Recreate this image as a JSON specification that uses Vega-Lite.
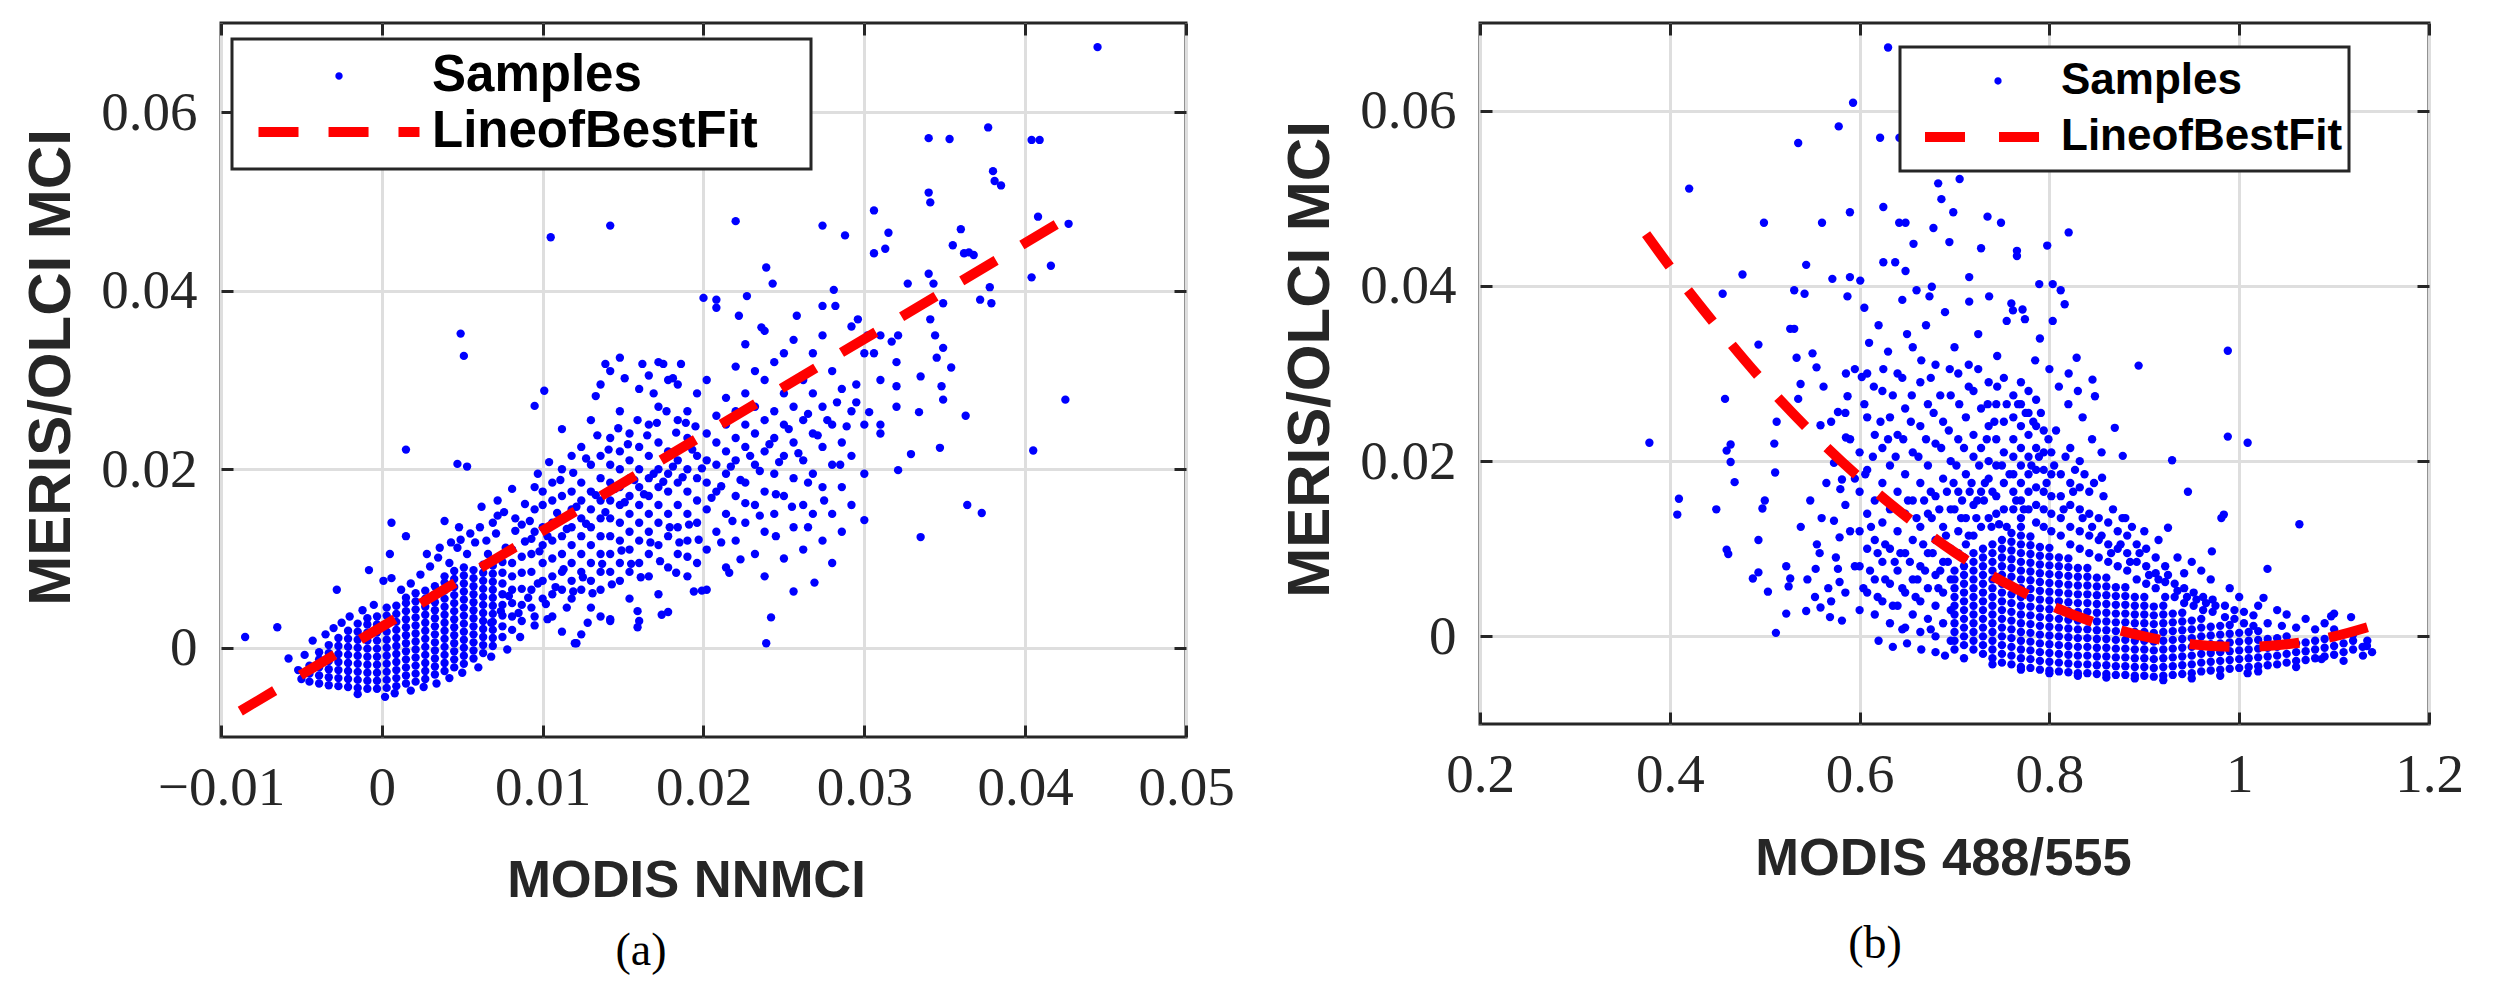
{
"$schema":"https://vega.github.io/schema/vega-lite/v6.json",
"background":"white",
"padding":{"left":20,"top":20,"right":10,"bottom":10},
"spacing":43,
"datasets":{
"a":[
{"x":0.0445,"y":0.0673},{"x":0.0377,"y":0.0583},{"x":0.034,"y":0.0571},{"x":0.0353,"y":0.057},{"x":0.0404,"y":0.0569},{"x":0.0409,"y":0.0569},{"x":0.034,"y":0.051},{"x":0.0341,"y":0.0499},{"x":0.038,"y":0.0534},{"x":0.0381,"y":0.0523},{"x":0.0385,"y":0.0518},{"x":0.0306,"y":0.049},{"x":0.0427,"y":0.0475},{"x":0.0408,"y":0.0483},{"x":0.0274,"y":0.0473},{"x":0.0288,"y":0.0462},{"x":0.022,"y":0.0478},{"x":0.0142,"y":0.0473},{"x":0.0105,"y":0.046},{"x":0.0315,"y":0.0465},{"x":0.0355,"y":0.0451},{"x":0.036,"y":0.0469},{"x":0.0362,"y":0.0442},{"x":0.0365,"y":0.0443},{"x":0.0368,"y":0.044},{"x":0.0416,"y":0.0428},{"x":0.0404,"y":0.0415},{"x":0.0343,"y":0.0408},{"x":0.034,"y":0.0419},{"x":0.0327,"y":0.0408},{"x":0.0239,"y":0.0426},{"x":0.0243,"y":0.0408},{"x":0.0378,"y":0.0404},{"x":0.0372,"y":0.039},{"x":0.0379,"y":0.0386},{"x":0.0313,"y":0.0447},{"x":0.0306,"y":0.0442},{"x":0.0227,"y":0.0394},{"x":0.02,"y":0.0392},{"x":0.0208,"y":0.0381},{"x":0.0222,"y":0.0372},{"x":0.0236,"y":0.0359},{"x":0.0281,"y":0.0401},{"x":0.0274,"y":0.0383},{"x":0.0296,"y":0.0368},{"x":0.0258,"y":0.0372},{"x":0.0282,"y":0.0383},{"x":0.0349,"y":0.0386},{"x":0.0341,"y":0.0368},{"x":0.0344,"y":0.035},{"x":0.0349,"y":0.0336},{"x":0.0345,"y":0.0325},{"x":0.0354,"y":0.0314},{"x":0.0335,"y":0.0304},{"x":0.0321,"y":0.035},{"x":0.0317,"y":0.0343},{"x":0.0302,"y":0.035},{"x":0.0306,"y":0.033},{"x":0.032,"y":0.0293},{"x":0.0348,"y":0.0293},{"x":0.0349,"y":0.0278},{"x":0.0363,"y":0.026},{"x":0.0334,"y":0.0264},{"x":0.0303,"y":0.0264},{"x":0.0295,"y":0.0275},{"x":0.031,"y":0.025},{"x":0.0321,"y":0.0199},{"x":0.0329,"y":0.0217},{"x":0.0347,"y":0.0224},{"x":0.0405,"y":0.0221},{"x":0.0364,"y":0.016},{"x":0.0373,"y":0.0151},{"x":0.0335,"y":0.0124},{"x":0.03,"y":0.0143},{"x":0.0425,"y":0.0278},{"x":0.0049,"y":0.0352},{"x":0.0051,"y":0.0327},{"x":0.0015,"y":0.0222},{"x":0.0095,"y":0.0271},{"x":0.0101,"y":0.0288},{"x":0.0047,"y":0.0206},{"x":0.0053,"y":0.0203},{"x":0.0006,"y":0.014},{"x":-0.0065,"y":0.0023},{"x":-0.0085,"y":0.0012},{"x":0.0242,"y":0.0034},{"x":0.0239,"y":0.0005},{"x":0.0256,"y":0.0063},{"x":0.0269,"y":0.0073},{"x":0.0223,"y":0.0099},{"x":0.0216,"y":0.0084},{"x":0.0199,"y":0.0064},{"x":0.0159,"y":0.0023},{"x":0.0174,"y":0.0037},{"x":0.0159,"y":0.0041},{"x":0.012,"y":0.0005},{"x":0.0142,"y":0.0032},{"x":0.019,"y":0.0102},{"x":0.0183,"y":0.0084},{"x":0.0194,"y":0.0063},
{"x":-0.0045,"y":-0.0038},{"x":-0.0045,"y":-0.0029},{"x":-0.0045,"y":-0.002},
{"x":-0.0039,"y":-0.004},{"x":-0.0039,"y":-0.0031},{"x":-0.0039,"y":-0.0022},{"x":-0.0039,"y":-0.0013},{"x":-0.0039,"y":-0.0005},
{"x":-0.0033,"y":-0.0042},{"x":-0.0033,"y":-0.0033},{"x":-0.0033,"y":-0.0024},{"x":-0.0033,"y":-0.0015},{"x":-0.0033,"y":-0.0006},{"x":-0.0033,"y":0.0003},
{"x":-0.0027,"y":-0.0043},{"x":-0.0027,"y":-0.0034},{"x":-0.0027,"y":-0.0025},{"x":-0.0027,"y":-0.0016},{"x":-0.0027,"y":-0.0007},{"x":-0.0027,"y":0.0002},{"x":-0.0027,"y":0.0011},
{"x":-0.0021,"y":-0.0044},{"x":-0.0021,"y":-0.0035},{"x":-0.0021,"y":-0.0026},{"x":-0.0021,"y":-0.0017},{"x":-0.0021,"y":-0.0008},{"x":-0.0021,"y":0.0001},{"x":-0.0021,"y":0.001},{"x":-0.0021,"y":0.0019},
{"x":-0.0015,"y":-0.0045},{"x":-0.0015,"y":-0.0036},{"x":-0.0015,"y":-0.0027},{"x":-0.0015,"y":-0.0018},{"x":-0.0015,"y":-0.0009},{"x":-0.0015,"y":0},{"x":-0.0015,"y":0.0009},{"x":-0.0015,"y":0.0018},{"x":-0.0015,"y":0.0027},
{"x":-0.0009,"y":-0.0046},{"x":-0.0009,"y":-0.0037},{"x":-0.0009,"y":-0.0028},{"x":-0.0009,"y":-0.0019},{"x":-0.0009,"y":-0.001},{"x":-0.0009,"y":-0.0001},{"x":-0.0009,"y":0.0008},{"x":-0.0009,"y":0.0017},{"x":-0.0009,"y":0.0026},{"x":-0.0009,"y":0.0033},
{"x":-0.0003,"y":-0.0046},{"x":-0.0003,"y":-0.0037},{"x":-0.0003,"y":-0.0028},{"x":-0.0003,"y":-0.0019},{"x":-0.0003,"y":-0.001},{"x":-0.0003,"y":-0.0001},{"x":-0.0003,"y":0.0008},{"x":-0.0003,"y":0.0017},{"x":-0.0003,"y":0.0026},{"x":-0.0003,"y":0.0035},
{"x":0.0003,"y":-0.0045},{"x":0.0003,"y":-0.0036},{"x":0.0003,"y":-0.0027},{"x":0.0003,"y":-0.0018},{"x":0.0003,"y":-0.0009},{"x":0.0003,"y":0},{"x":0.0003,"y":0.0009},{"x":0.0003,"y":0.0018},{"x":0.0003,"y":0.0027},{"x":0.0003,"y":0.0036},{"x":0.0003,"y":0.0045},
{"x":0.0009,"y":-0.0043},{"x":0.0009,"y":-0.0034},{"x":0.0009,"y":-0.0025},{"x":0.0009,"y":-0.0016},{"x":0.0009,"y":-0.0007},{"x":0.0009,"y":0.0002},{"x":0.0009,"y":0.0011},{"x":0.0009,"y":0.002},{"x":0.0009,"y":0.0029},{"x":0.0009,"y":0.0038},{"x":0.0009,"y":0.0047},
{"x":0.0015,"y":-0.004},{"x":0.0015,"y":-0.0031},{"x":0.0015,"y":-0.0022},{"x":0.0015,"y":-0.0013},{"x":0.0015,"y":-0.0004},{"x":0.0015,"y":0.0005},{"x":0.0015,"y":0.0014},{"x":0.0015,"y":0.0023},{"x":0.0015,"y":0.0032},{"x":0.0015,"y":0.0041},{"x":0.0015,"y":0.005},{"x":0.0015,"y":0.0056},
{"x":0.0021,"y":-0.0038},{"x":0.0021,"y":-0.0029},{"x":0.0021,"y":-0.002},{"x":0.0021,"y":-0.0011},{"x":0.0021,"y":-0.0002},{"x":0.0021,"y":0.0007},{"x":0.0021,"y":0.0016},{"x":0.0021,"y":0.0025},{"x":0.0021,"y":0.0034},{"x":0.0021,"y":0.0043},{"x":0.0021,"y":0.0052},{"x":0.0021,"y":0.0061},
{"x":0.0027,"y":-0.0035},{"x":0.0027,"y":-0.0026},{"x":0.0027,"y":-0.0017},{"x":0.0027,"y":-0.0008},{"x":0.0027,"y":0.0001},{"x":0.0027,"y":0.001},{"x":0.0027,"y":0.0019},{"x":0.0027,"y":0.0028},{"x":0.0027,"y":0.0037},{"x":0.0027,"y":0.0046},{"x":0.0027,"y":0.0055},{"x":0.0027,"y":0.0064},
{"x":0.0033,"y":-0.003},{"x":0.0033,"y":-0.0021},{"x":0.0033,"y":-0.0012},{"x":0.0033,"y":-0.0003},{"x":0.0033,"y":0.0006},{"x":0.0033,"y":0.0015},{"x":0.0033,"y":0.0024},{"x":0.0033,"y":0.0033},{"x":0.0033,"y":0.0042},{"x":0.0033,"y":0.0051},{"x":0.0033,"y":0.006},{"x":0.0033,"y":0.0069},
{"x":0.0039,"y":-0.0026},{"x":0.0039,"y":-0.0017},{"x":0.0039,"y":-0.0008},{"x":0.0039,"y":0.0001},{"x":0.0039,"y":0.001},{"x":0.0039,"y":0.0019},{"x":0.0039,"y":0.0028},{"x":0.0039,"y":0.0037},{"x":0.0039,"y":0.0046},{"x":0.0039,"y":0.0055},{"x":0.0039,"y":0.0064},{"x":0.0039,"y":0.0073},{"x":0.0039,"y":0.008},
{"x":0.0045,"y":-0.0022},{"x":0.0045,"y":-0.0013},{"x":0.0045,"y":-0.0004},{"x":0.0045,"y":0.0005},{"x":0.0045,"y":0.0014},{"x":0.0045,"y":0.0023},{"x":0.0045,"y":0.0032},{"x":0.0045,"y":0.0041},{"x":0.0045,"y":0.005},{"x":0.0045,"y":0.0059},{"x":0.0045,"y":0.0068},{"x":0.0045,"y":0.0077},{"x":0.0045,"y":0.0086},
{"x":0.0051,"y":-0.0018},{"x":0.0051,"y":-0.0009},{"x":0.0051,"y":0},{"x":0.0051,"y":0.0009},{"x":0.0051,"y":0.0018},{"x":0.0051,"y":0.0027},{"x":0.0051,"y":0.0036},{"x":0.0051,"y":0.0045},{"x":0.0051,"y":0.0054},{"x":0.0051,"y":0.0063},{"x":0.0051,"y":0.0072},{"x":0.0051,"y":0.0081},{"x":0.0051,"y":0.009},
{"x":0.0057,"y":-0.0012},{"x":0.0057,"y":-0.0003},{"x":0.0057,"y":0.0006},{"x":0.0057,"y":0.0015},{"x":0.0057,"y":0.0024},{"x":0.0057,"y":0.0033},{"x":0.0057,"y":0.0042},{"x":0.0057,"y":0.0051},{"x":0.0057,"y":0.006},{"x":0.0057,"y":0.0069},{"x":0.0057,"y":0.0078},{"x":0.0057,"y":0.0087},
{"x":0.0063,"y":-0.0006},{"x":0.0063,"y":0.0003},{"x":0.0063,"y":0.0012},{"x":0.0063,"y":0.0021},{"x":0.0063,"y":0.003},{"x":0.0063,"y":0.0039},{"x":0.0063,"y":0.0048},{"x":0.0063,"y":0.0057},{"x":0.0063,"y":0.0066},{"x":0.0063,"y":0.0075},{"x":0.0063,"y":0.0084},{"x":0.0063,"y":0.0093},
{"x":0.0069,"y":0.0002},{"x":0.0069,"y":0.0011},{"x":0.0069,"y":0.002},{"x":0.0069,"y":0.0029},{"x":0.0069,"y":0.0038},{"x":0.0069,"y":0.0047},{"x":0.0069,"y":0.0056},{"x":0.0069,"y":0.0065},{"x":0.0069,"y":0.0074},{"x":0.0069,"y":0.0083},{"x":0.0069,"y":0.0092},
{"x":0.0075,"y":0.0012},{"x":0.0075,"y":0.0024},{"x":0.0075,"y":0.0036},{"x":0.0075,"y":0.0048},{"x":0.0075,"y":0.006},{"x":0.0075,"y":0.0072},{"x":0.0075,"y":0.0084},{"x":0.0075,"y":0.0096},
{"x":0.0081,"y":0.002},{"x":0.0081,"y":0.0035},{"x":0.0081,"y":0.005},{"x":0.0081,"y":0.0065},{"x":0.0081,"y":0.008},{"x":0.0081,"y":0.0095},{"x":0.0081,"y":0.011},
{"x":0.0087,"y":0.003},{"x":0.0087,"y":0.0048},{"x":0.0087,"y":0.0066},{"x":0.0087,"y":0.0084},{"x":0.0087,"y":0.0102},
{"x":0.0093,"y":0.0045},{"x":0.0093,"y":0.0065},{"x":0.0093,"y":0.0085},{"x":0.0093,"y":0.0105},{"x":0.0093,"y":0.0122},
{"x":-0.0058,"y":-0.0012},{"x":-0.0052,"y":-0.0025},{"x":-0.0048,"y":-0.0008},{"x":-0.005,"y":-0.0035},{"x":-0.0043,"y":0.0008},{"x":-0.0035,"y":0.0015},{"x":-0.003,"y":0.0022},{"x":-0.0025,"y":0.0028},{"x":-0.0028,"y":0.0065},{"x":-0.002,"y":0.0035},{"x":-0.0012,"y":0.0042},{"x":-0.0005,"y":0.0048},{"x":0.0001,"y":0.0075},{"x":0.0006,"y":0.0078},{"x":0.0012,"y":0.0065},{"x":0.0018,"y":0.0072},{"x":-0.0015,"y":-0.0052},{"x":0.0002,"y":-0.0055},{"x":0.0008,"y":-0.0051},{"x":0.0018,"y":-0.0048},{"x":0.0026,"y":-0.0044},{"x":0.0034,"y":-0.004},{"x":0.0042,"y":-0.0034},{"x":0.005,"y":-0.0028},{"x":0.006,"y":-0.0022},{"x":0.0068,"y":-0.001},{"x":0.0078,"y":-0.0002},{"x":0.0086,"y":0.0012},{"x":0.0095,"y":0.0025},{"x":0.0103,"y":0.0032},{"x":0.0112,"y":0.0018},{"x":0.0121,"y":0.0005},{"x":0.0128,"y":0.0028},{"x":0.0115,"y":0.0045},{"x":0.0024,"y":0.0082},{"x":0.003,"y":0.0091},{"x":0.0035,"y":0.0101},{"x":0.0042,"y":0.0095},{"x":0.0028,"y":0.0105},{"x":0.0047,"y":0.0112},{"x":0.0053,"y":0.0105},{"x":0.0058,"y":0.0118},{"x":0.0065,"y":0.012},{"x":0.0039,"y":0.0142},{"x":0.0048,"y":0.0135},{"x":0.0005,"y":0.0105},{"x":-0.0008,"y":0.0087},{"x":0.0015,"y":0.0125},{"x":0.0062,"y":0.0158},{"x":0.0072,"y":0.0148},
{"x":0.0095,"y":0.013},{"x":0.0095,"y":0.0155},{"x":0.0095,"y":0.0035},{"x":0.0095,"y":0.018},
{"x":0.01,"y":0.0055},{"x":0.01,"y":0.0075},{"x":0.01,"y":0.0095},{"x":0.01,"y":0.0115},{"x":0.01,"y":0.0135},{"x":0.01,"y":0.016},{"x":0.01,"y":0.0175},
{"x":0.0106,"y":0.006},{"x":0.0106,"y":0.008},{"x":0.0106,"y":0.01},{"x":0.0106,"y":0.012},{"x":0.0106,"y":0.014},{"x":0.0106,"y":0.0165},{"x":0.0106,"y":0.0185},{"x":0.0106,"y":0.0035},
{"x":0.0112,"y":0.0065},{"x":0.0112,"y":0.0085},{"x":0.0112,"y":0.0105},{"x":0.0112,"y":0.0125},{"x":0.0112,"y":0.0145},{"x":0.0112,"y":0.017},{"x":0.0112,"y":0.02},{"x":0.0112,"y":0.0245},
{"x":0.0118,"y":0.0055},{"x":0.0118,"y":0.0075},{"x":0.0118,"y":0.0095},{"x":0.0118,"y":0.0115},{"x":0.0118,"y":0.0135},{"x":0.0118,"y":0.0155},{"x":0.0118,"y":0.0175},{"x":0.0118,"y":0.0215},
{"x":0.0124,"y":0.0065},{"x":0.0124,"y":0.0085},{"x":0.0124,"y":0.0105},{"x":0.0124,"y":0.0125},{"x":0.0124,"y":0.0145},{"x":0.0124,"y":0.0165},{"x":0.0124,"y":0.0185},{"x":0.0124,"y":0.0225},{"x":0.0124,"y":0.0015},
{"x":0.013,"y":0.0045},{"x":0.013,"y":0.0075},{"x":0.013,"y":0.0095},{"x":0.013,"y":0.0115},{"x":0.013,"y":0.0135},{"x":0.013,"y":0.0155},{"x":0.013,"y":0.0175},{"x":0.013,"y":0.0205},{"x":0.013,"y":0.0255},
{"x":0.0136,"y":0.0065},{"x":0.0136,"y":0.0085},{"x":0.0136,"y":0.0105},{"x":0.0136,"y":0.0125},{"x":0.0136,"y":0.0145},{"x":0.0136,"y":0.0165},{"x":0.0136,"y":0.019},{"x":0.0136,"y":0.0215},{"x":0.0136,"y":0.0295},{"x":0.0136,"y":0.0035},
{"x":0.0142,"y":0.0085},{"x":0.0142,"y":0.0105},{"x":0.0142,"y":0.0125},{"x":0.0142,"y":0.0145},{"x":0.0142,"y":0.0165},{"x":0.0142,"y":0.0185},{"x":0.0142,"y":0.0205},{"x":0.0142,"y":0.0235},{"x":0.0142,"y":0.031},{"x":0.0142,"y":0.003},
{"x":0.0148,"y":0.0075},{"x":0.0148,"y":0.0095},{"x":0.0148,"y":0.012},{"x":0.0148,"y":0.014},{"x":0.0148,"y":0.016},{"x":0.0148,"y":0.018},{"x":0.0148,"y":0.02},{"x":0.0148,"y":0.022},{"x":0.0148,"y":0.0265},{"x":0.0148,"y":0.0325},
{"x":0.0154,"y":0.0085},{"x":0.0154,"y":0.011},{"x":0.0154,"y":0.013},{"x":0.0154,"y":0.015},{"x":0.0154,"y":0.017},{"x":0.0154,"y":0.019},{"x":0.0154,"y":0.021},{"x":0.0154,"y":0.024},{"x":0.0154,"y":0.0055},
{"x":0.016,"y":0.0095},{"x":0.016,"y":0.012},{"x":0.016,"y":0.014},{"x":0.016,"y":0.016},{"x":0.016,"y":0.018},{"x":0.016,"y":0.02},{"x":0.016,"y":0.0225},{"x":0.016,"y":0.029},{"x":0.016,"y":0.003},
{"x":0.0166,"y":0.008},{"x":0.0166,"y":0.0105},{"x":0.0166,"y":0.013},{"x":0.0166,"y":0.015},{"x":0.0166,"y":0.017},{"x":0.0166,"y":0.019},{"x":0.0166,"y":0.0215},{"x":0.0166,"y":0.025},{"x":0.0166,"y":0.0305},
{"x":0.0172,"y":0.0115},{"x":0.0172,"y":0.014},{"x":0.0172,"y":0.016},{"x":0.0172,"y":0.018},{"x":0.0172,"y":0.02},{"x":0.0172,"y":0.023},{"x":0.0172,"y":0.027},{"x":0.0172,"y":0.032},{"x":0.0172,"y":0.006},
{"x":0.0178,"y":0.009},{"x":0.0178,"y":0.0125},{"x":0.0178,"y":0.015},{"x":0.0178,"y":0.0175},{"x":0.0178,"y":0.0195},{"x":0.0178,"y":0.022},{"x":0.0178,"y":0.03},{"x":0.0178,"y":0.004},
{"x":0.0184,"y":0.0105},{"x":0.0184,"y":0.0135},{"x":0.0184,"y":0.016},{"x":0.0184,"y":0.0185},{"x":0.0184,"y":0.021},{"x":0.0184,"y":0.0255},{"x":0.0184,"y":0.0295},
{"x":0.019,"y":0.008},{"x":0.019,"y":0.012},{"x":0.019,"y":0.015},{"x":0.019,"y":0.0175},{"x":0.019,"y":0.02},{"x":0.019,"y":0.0235},{"x":0.019,"y":0.0265},
{"x":0.0196,"y":0.0095},{"x":0.0196,"y":0.014},{"x":0.0196,"y":0.0165},{"x":0.0196,"y":0.019},{"x":0.0196,"y":0.0215},{"x":0.0196,"y":0.0285},
{"x":0.0202,"y":0.011},{"x":0.0202,"y":0.0155},{"x":0.0202,"y":0.0185},{"x":0.0202,"y":0.021},{"x":0.0202,"y":0.024},{"x":0.0202,"y":0.03},{"x":0.0202,"y":0.0065},
{"x":0.0208,"y":0.013},{"x":0.0208,"y":0.0175},{"x":0.0208,"y":0.0205},{"x":0.0208,"y":0.023},{"x":0.0208,"y":0.026},{"x":0.0208,"y":0.039},
{"x":0.0214,"y":0.009},{"x":0.0214,"y":0.015},{"x":0.0214,"y":0.0195},{"x":0.0214,"y":0.022},{"x":0.0214,"y":0.025},{"x":0.0214,"y":0.028},
{"x":0.022,"y":0.012},{"x":0.022,"y":0.017},{"x":0.022,"y":0.021},{"x":0.022,"y":0.0235},{"x":0.022,"y":0.0265},{"x":0.022,"y":0.0315},
{"x":0.0226,"y":0.014},{"x":0.0226,"y":0.0185},{"x":0.0226,"y":0.0225},{"x":0.0226,"y":0.025},{"x":0.0226,"y":0.0285},{"x":0.0226,"y":0.034},
{"x":0.0232,"y":0.0105},{"x":0.0232,"y":0.016},{"x":0.0232,"y":0.0205},{"x":0.0232,"y":0.024},{"x":0.0232,"y":0.027},{"x":0.0232,"y":0.031},
{"x":0.0238,"y":0.008},{"x":0.0238,"y":0.013},{"x":0.0238,"y":0.0175},{"x":0.0238,"y":0.022},{"x":0.0238,"y":0.0255},{"x":0.0238,"y":0.03},{"x":0.0238,"y":0.0355},
{"x":0.0244,"y":0.015},{"x":0.0244,"y":0.0195},{"x":0.0244,"y":0.0235},{"x":0.0244,"y":0.0265},{"x":0.0244,"y":0.032},
{"x":0.025,"y":0.01},{"x":0.025,"y":0.017},{"x":0.025,"y":0.0215},{"x":0.025,"y":0.025},{"x":0.025,"y":0.0285},{"x":0.025,"y":0.033},
{"x":0.0256,"y":0.0135},{"x":0.0256,"y":0.019},{"x":0.0256,"y":0.023},{"x":0.0256,"y":0.027},{"x":0.0256,"y":0.0345},
{"x":0.0262,"y":0.011},{"x":0.0262,"y":0.016},{"x":0.0262,"y":0.021},{"x":0.0262,"y":0.0255},{"x":0.0262,"y":0.03},
{"x":0.0268,"y":0.015},{"x":0.0268,"y":0.0195},{"x":0.0268,"y":0.024},{"x":0.0268,"y":0.0285},{"x":0.0268,"y":0.033},
{"x":0.0274,"y":0.012},{"x":0.0274,"y":0.018},{"x":0.0274,"y":0.0225},{"x":0.0274,"y":0.027},{"x":0.0274,"y":0.035},
{"x":0.028,"y":0.0095},{"x":0.028,"y":0.015},{"x":0.028,"y":0.0205},{"x":0.028,"y":0.025},{"x":0.028,"y":0.031},
{"x":0.0286,"y":0.013},{"x":0.0286,"y":0.018},{"x":0.0286,"y":0.023},{"x":0.0286,"y":0.029},
{"x":0.0292,"y":0.016},{"x":0.0292,"y":0.0215},{"x":0.0292,"y":0.0265},{"x":0.0292,"y":0.036},
{"x":0.03,"y":0.0195},{"x":0.03,"y":0.025},{"x":0.03,"y":0.033},
{"x":0.031,"y":0.024},{"x":0.031,"y":0.03},{"x":0.031,"y":0.035},
{"x":0.032,"y":0.027},{"x":0.032,"y":0.032},
{"x":0.0066,"y":0.0105},{"x":0.0071,"y":0.0128},{"x":0.0077,"y":0.0112},{"x":0.0083,"y":0.0131},{"x":0.0089,"y":0.0119},{"x":0.0092,"y":0.0142},{"x":0.0098,"y":0.0108},{"x":0.0103,"y":0.0125},{"x":0.0109,"y":0.0151},{"x":0.0115,"y":0.0133},{"x":0.0121,"y":0.0158},{"x":0.0127,"y":0.0139},{"x":0.0133,"y":0.0171},{"x":0.0139,"y":0.0152},{"x":0.0145,"y":0.0178},{"x":0.0151,"y":0.0163},{"x":0.0157,"y":0.0188},{"x":0.0163,"y":0.0172},{"x":0.0169,"y":0.0195},{"x":0.0175,"y":0.0186},{"x":0.0181,"y":0.0203},{"x":0.0187,"y":0.0191},{"x":0.0193,"y":0.0222},{"x":0.0199,"y":0.0201},
{"x":0.0068,"y":0.0028},{"x":0.0074,"y":0.0041},{"x":0.0079,"y":0.0058},{"x":0.0085,"y":0.0039},{"x":0.0091,"y":0.0056},{"x":0.0097,"y":0.0072},{"x":0.0102,"y":0.0049},{"x":0.0108,"y":0.0068},{"x":0.0113,"y":0.0088},{"x":0.0119,"y":0.0063},{"x":0.0125,"y":0.0079},{"x":0.0131,"y":0.0061},{"x":0.0137,"y":0.0094},{"x":0.0143,"y":0.0071},{"x":0.0149,"y":0.0109},{"x":0.0155,"y":0.0094},{"x":0.0161,"y":0.0079},{"x":0.0167,"y":0.0118},{"x":0.0173,"y":0.0097},{"x":0.0179,"y":0.0135},{"x":0.0185,"y":0.0118},{"x":0.0191,"y":0.0138},{"x":0.0197,"y":0.0121},
{"x":0.0072,"y":0.0165},{"x":0.0081,"y":0.0178},{"x":0.0089,"y":0.0161},{"x":0.0097,"y":0.0195},{"x":0.0104,"y":0.0208},{"x":0.0111,"y":0.0188},{"x":0.0119,"y":0.0196},{"x":0.0127,"y":0.0212},{"x":0.0134,"y":0.0238},{"x":0.0141,"y":0.0222},{"x":0.0147,"y":0.0246},{"x":0.0153,"y":0.0228},{"x":0.0159,"y":0.0255},{"x":0.0165,"y":0.0238},{"x":0.0171,"y":0.0252},{"x":0.0177,"y":0.0265},{"x":0.0183,"y":0.0241},{"x":0.0189,"y":0.0252},{"x":0.0195,"y":0.0248},
{"x":0.0133,"y":0.0282},{"x":0.0139,"y":0.0318},{"x":0.0151,"y":0.0302},{"x":0.0162,"y":0.0318},{"x":0.0169,"y":0.0285},{"x":0.0175,"y":0.0318},{"x":0.0181,"y":0.0302},{"x":0.0186,"y":0.0318},
{"x":0.0205,"y":0.0168},{"x":0.0211,"y":0.0181},{"x":0.0217,"y":0.0203},{"x":0.0223,"y":0.0188},{"x":0.0229,"y":0.0215},{"x":0.0235,"y":0.0198},{"x":0.0241,"y":0.0228},{"x":0.0247,"y":0.0208},{"x":0.0253,"y":0.0245},{"x":0.0259,"y":0.0218},{"x":0.0265,"y":0.0262},{"x":0.0271,"y":0.0238},{"x":0.0277,"y":0.0255},{"x":0.0283,"y":0.0275},{"x":0.0289,"y":0.0248},{"x":0.0295,"y":0.0295},
{"x":0.0211,"y":0.0118},{"x":0.0218,"y":0.0142},{"x":0.0226,"y":0.0162},{"x":0.0235,"y":0.0148},{"x":0.0245,"y":0.0172},{"x":0.0255,"y":0.0158},{"x":0.0265,"y":0.0185},{"x":0.0275,"y":0.0165},{"x":0.0285,"y":0.0205},{"x":0.0265,"y":0.0135},{"x":0.0245,"y":0.0125},
{"x":0.0061,"y":0.0135},{"x":0.0055,"y":0.0128},{"x":0.0049,"y":0.0121},{"x":0.0043,"y":0.0118},{"x":0.0036,"y":0.0112},{"x":0.0069,"y":0.014},{"x":0.0076,"y":0.0152},{"x":0.0083,"y":0.0145},{"x":0.0087,"y":0.0138}
],
"fa":[{"x":-0.0088,"y":-0.0071},{"x":0.0434,"y":0.049}],
"b":[
{"x":0.63,"y":0.0672},{"x":0.5931,"y":0.0609},{"x":0.578,"y":0.0582},{"x":0.5353,"y":0.0563},{"x":0.6216,"y":0.0569},{"x":0.642,"y":0.0569},{"x":0.4204,"y":0.0511},{"x":0.6828,"y":0.0517},{"x":0.7054,"y":0.0522},{"x":0.625,"y":0.049},{"x":0.5898,"y":0.0484},{"x":0.4992,"y":0.0472},{"x":0.5604,"y":0.0472},{"x":0.6417,"y":0.0472},{"x":0.6484,"y":0.0472},{"x":0.6862,"y":0.0499},{"x":0.6987,"y":0.0484},{"x":0.6778,"y":0.0466},{"x":0.7348,"y":0.0479},{"x":0.749,"y":0.0472},{"x":0.8203,"y":0.0461},{"x":0.7977,"y":0.0446},{"x":0.7658,"y":0.044},{"x":0.7658,"y":0.0434},{"x":0.728,"y":0.0443},{"x":0.6946,"y":0.045},{"x":0.6568,"y":0.0448},{"x":0.6375,"y":0.0427},{"x":0.625,"y":0.0427},{"x":0.5898,"y":0.041},{"x":0.5872,"y":0.0388},{"x":0.5713,"y":0.0408},{"x":0.5437,"y":0.0424},{"x":0.542,"y":0.0391},{"x":0.4766,"y":0.0413},{"x":0.4557,"y":0.0391},{"x":0.5311,"y":0.0395},{"x":0.6007,"y":0.0406},{"x":0.6484,"y":0.0417},{"x":0.645,"y":0.0384},{"x":0.6761,"y":0.0399},{"x":0.6736,"y":0.0388},{"x":0.7155,"y":0.041},{"x":0.7155,"y":0.0382},{"x":0.7365,"y":0.0388},{"x":0.7599,"y":0.038},{"x":0.7616,"y":0.0372},{"x":0.7717,"y":0.0373},{"x":0.7742,"y":0.0362},{"x":0.7893,"y":0.0402},{"x":0.8035,"y":0.0402},{"x":0.8161,"y":0.0379},{"x":0.8119,"y":0.0395},{"x":0.8035,"y":0.036},{"x":0.8287,"y":0.0318},{"x":0.8203,"y":0.03},{"x":0.8454,"y":0.0293},{"x":0.848,"y":0.0274},{"x":0.894,"y":0.0309},{"x":0.8689,"y":0.0238},{"x":0.8555,"y":0.0181},{"x":0.8773,"y":0.0206},{"x":0.988,"y":0.0326},{"x":0.988,"y":0.0228},{"x":1.0089,"y":0.0221},{"x":0.9293,"y":0.0201},{"x":0.946,"y":0.0165},{"x":0.9838,"y":0.0139},{"x":0.9812,"y":0.0135},{"x":1.0634,"y":0.0128},{"x":0.925,"y":0.0124},{"x":0.9712,"y":0.0097},{"x":1.0298,"y":0.0077},{"x":1.0256,"y":0.0044},{"x":1.0969,"y":0.0023},{"x":1.1,"y":0.0026},{"x":1.1179,"y":0.0022},{"x":1.0868,"y":-0.0026},{"x":1.1304,"y":-0.0022},{"x":1.1346,"y":-0.0011},{"x":1.0089,"y":-0.0042},{"x":0.3785,"y":0.0221},{"x":0.4096,"y":0.0157},{"x":0.4079,"y":0.0139},{"x":0.449,"y":0.0145},{"x":0.4599,"y":0.0212},{"x":0.4641,"y":0.0199},{"x":0.4683,"y":0.0176},{"x":0.4582,"y":0.0271},{"x":0.4641,"y":0.0219},{"x":0.4599,"y":0.0099},{"x":0.4616,"y":0.0094},{"x":0.4875,"y":0.0066},{"x":0.4934,"y":0.0073},{"x":0.5034,"y":0.0051},{"x":0.4934,"y":0.011},{"x":0.4976,"y":0.0146},{"x":0.5001,"y":0.0155},{"x":0.511,"y":0.0187},{"x":0.5101,"y":0.022},{"x":0.5126,"y":0.0245},{"x":0.5353,"y":0.0271},{"x":0.5378,"y":0.0288},{"x":0.5269,"y":0.0351},{"x":0.5311,"y":0.0351},{"x":0.5336,"y":0.0318},{"x":0.5504,"y":0.0323},{"x":0.5546,"y":0.0307},{"x":0.4934,"y":0.0333},{"x":0.5118,"y":0.0004},{"x":0.5227,"y":0.008},{"x":0.5269,"y":0.0066},{"x":0.5252,"y":0.0057},{"x":0.5227,"y":0.0026},{"x":0.5437,"y":0.0029},{"x":0.5588,"y":0.0033},{"x":0.5688,"y":0.0022},{"x":0.5814,"y":0.0018},{"x":0.5537,"y":0.0077},{"x":0.5579,"y":0.0095},{"x":0.5772,"y":0.0077},{"x":0.5789,"y":0.0062},{"x":0.573,"y":0.0132},{"x":0.5789,"y":0.0113},{"x":0.5797,"y":0.0168},{"x":0.5814,"y":0.0179},{"x":0.5688,"y":0.0212},{"x":0.5588,"y":0.0241},{"x":0.573,"y":0.0198},{"x":0.5772,"y":0.0256},{"x":0.5856,"y":0.03},{"x":0.6023,"y":0.0296},{"x":0.5873,"y":0.0274},{"x":0.5856,"y":0.0227},
{"x":0.7,"y":-0.0005},{"x":0.7,"y":0.0005},{"x":0.7,"y":0.0015},{"x":0.7,"y":0.0025},{"x":0.7,"y":0.0035},{"x":0.7,"y":0.0045},{"x":0.7,"y":0.0055},{"x":0.7,"y":0.0065},{"x":0.7,"y":0.0075},
{"x":0.71,"y":-0.001},{"x":0.71,"y":0},{"x":0.71,"y":0.001},{"x":0.71,"y":0.002},{"x":0.71,"y":0.003},{"x":0.71,"y":0.004},{"x":0.71,"y":0.005},{"x":0.71,"y":0.006},{"x":0.71,"y":0.007},{"x":0.71,"y":0.008},{"x":0.71,"y":0.009},
{"x":0.72,"y":-0.0015},{"x":0.72,"y":-0.0005},{"x":0.72,"y":0.0005},{"x":0.72,"y":0.0015},{"x":0.72,"y":0.0025},{"x":0.72,"y":0.0035},{"x":0.72,"y":0.0045},{"x":0.72,"y":0.0055},{"x":0.72,"y":0.0065},{"x":0.72,"y":0.0075},{"x":0.72,"y":0.0085},{"x":0.72,"y":0.0095},
{"x":0.73,"y":-0.002},{"x":0.73,"y":-0.001},{"x":0.73,"y":0},{"x":0.73,"y":0.001},{"x":0.73,"y":0.002},{"x":0.73,"y":0.003},{"x":0.73,"y":0.004},{"x":0.73,"y":0.005},{"x":0.73,"y":0.006},{"x":0.73,"y":0.007},{"x":0.73,"y":0.008},{"x":0.73,"y":0.009},{"x":0.73,"y":0.01},
{"x":0.74,"y":-0.0025},{"x":0.74,"y":-0.0015},{"x":0.74,"y":-0.0005},{"x":0.74,"y":0.0005},{"x":0.74,"y":0.0015},{"x":0.74,"y":0.0025},{"x":0.74,"y":0.0035},{"x":0.74,"y":0.0045},{"x":0.74,"y":0.0055},{"x":0.74,"y":0.0065},{"x":0.74,"y":0.0075},{"x":0.74,"y":0.0085},{"x":0.74,"y":0.0095},{"x":0.74,"y":0.0105},
{"x":0.75,"y":-0.003},{"x":0.75,"y":-0.002},{"x":0.75,"y":-0.001},{"x":0.75,"y":0},{"x":0.75,"y":0.001},{"x":0.75,"y":0.002},{"x":0.75,"y":0.003},{"x":0.75,"y":0.004},{"x":0.75,"y":0.005},{"x":0.75,"y":0.006},{"x":0.75,"y":0.007},{"x":0.75,"y":0.008},{"x":0.75,"y":0.009},{"x":0.75,"y":0.01},{"x":0.75,"y":0.011},
{"x":0.76,"y":-0.0032},{"x":0.76,"y":-0.0022},{"x":0.76,"y":-0.0012},{"x":0.76,"y":-0.0002},{"x":0.76,"y":0.0008},{"x":0.76,"y":0.0018},{"x":0.76,"y":0.0028},{"x":0.76,"y":0.0038},{"x":0.76,"y":0.0048},{"x":0.76,"y":0.0058},{"x":0.76,"y":0.0068},{"x":0.76,"y":0.0078},{"x":0.76,"y":0.0088},{"x":0.76,"y":0.0098},{"x":0.76,"y":0.0108},{"x":0.76,"y":0.0118},
{"x":0.77,"y":-0.0035},{"x":0.77,"y":-0.0025},{"x":0.77,"y":-0.0015},{"x":0.77,"y":-0.0005},{"x":0.77,"y":0.0005},{"x":0.77,"y":0.0015},{"x":0.77,"y":0.0025},{"x":0.77,"y":0.0035},{"x":0.77,"y":0.0045},{"x":0.77,"y":0.0055},{"x":0.77,"y":0.0065},{"x":0.77,"y":0.0075},{"x":0.77,"y":0.0085},{"x":0.77,"y":0.0095},{"x":0.77,"y":0.0105},{"x":0.77,"y":0.0115},{"x":0.77,"y":0.0125},
{"x":0.78,"y":-0.0036},{"x":0.78,"y":-0.0026},{"x":0.78,"y":-0.0016},{"x":0.78,"y":-0.0006},{"x":0.78,"y":0.0004},{"x":0.78,"y":0.0014},{"x":0.78,"y":0.0024},{"x":0.78,"y":0.0034},{"x":0.78,"y":0.0044},{"x":0.78,"y":0.0054},{"x":0.78,"y":0.0064},{"x":0.78,"y":0.0074},{"x":0.78,"y":0.0084},{"x":0.78,"y":0.0094},{"x":0.78,"y":0.0104},{"x":0.78,"y":0.0114},
{"x":0.79,"y":-0.0038},{"x":0.79,"y":-0.0028},{"x":0.79,"y":-0.0018},{"x":0.79,"y":-0.0008},{"x":0.79,"y":0.0002},{"x":0.79,"y":0.0012},{"x":0.79,"y":0.0022},{"x":0.79,"y":0.0032},{"x":0.79,"y":0.0042},{"x":0.79,"y":0.0052},{"x":0.79,"y":0.0062},{"x":0.79,"y":0.0072},{"x":0.79,"y":0.0082},{"x":0.79,"y":0.0092},{"x":0.79,"y":0.0102},
{"x":0.8,"y":-0.0039},{"x":0.8,"y":-0.0029},{"x":0.8,"y":-0.0019},{"x":0.8,"y":-0.0009},{"x":0.8,"y":0.0001},{"x":0.8,"y":0.0011},{"x":0.8,"y":0.0021},{"x":0.8,"y":0.0031},{"x":0.8,"y":0.0041},{"x":0.8,"y":0.0051},{"x":0.8,"y":0.0061},{"x":0.8,"y":0.0071},{"x":0.8,"y":0.0081},{"x":0.8,"y":0.0091},{"x":0.8,"y":0.0101},
{"x":0.81,"y":-0.004},{"x":0.81,"y":-0.003},{"x":0.81,"y":-0.002},{"x":0.81,"y":-0.001},{"x":0.81,"y":0},{"x":0.81,"y":0.001},{"x":0.81,"y":0.002},{"x":0.81,"y":0.003},{"x":0.81,"y":0.004},{"x":0.81,"y":0.005},{"x":0.81,"y":0.006},{"x":0.81,"y":0.007},{"x":0.81,"y":0.008},{"x":0.81,"y":0.009},
{"x":0.82,"y":-0.0041},{"x":0.82,"y":-0.0031},{"x":0.82,"y":-0.0021},{"x":0.82,"y":-0.0011},{"x":0.82,"y":-0.0001},{"x":0.82,"y":0.0009},{"x":0.82,"y":0.0019},{"x":0.82,"y":0.0029},{"x":0.82,"y":0.0039},{"x":0.82,"y":0.0049},{"x":0.82,"y":0.0059},{"x":0.82,"y":0.0069},{"x":0.82,"y":0.0079},{"x":0.82,"y":0.0089},
{"x":0.83,"y":-0.0042},{"x":0.83,"y":-0.0032},{"x":0.83,"y":-0.0022},{"x":0.83,"y":-0.0012},{"x":0.83,"y":-0.0002},{"x":0.83,"y":0.0008},{"x":0.83,"y":0.0018},{"x":0.83,"y":0.0028},{"x":0.83,"y":0.0038},{"x":0.83,"y":0.0048},{"x":0.83,"y":0.0058},{"x":0.83,"y":0.0068},{"x":0.83,"y":0.0078},
{"x":0.84,"y":-0.0042},{"x":0.84,"y":-0.0032},{"x":0.84,"y":-0.0022},{"x":0.84,"y":-0.0012},{"x":0.84,"y":-0.0002},{"x":0.84,"y":0.0008},{"x":0.84,"y":0.0018},{"x":0.84,"y":0.0028},{"x":0.84,"y":0.0038},{"x":0.84,"y":0.0048},{"x":0.84,"y":0.0058},{"x":0.84,"y":0.0068},{"x":0.84,"y":0.0078},
{"x":0.85,"y":-0.0043},{"x":0.85,"y":-0.0033},{"x":0.85,"y":-0.0023},{"x":0.85,"y":-0.0013},{"x":0.85,"y":-0.0003},{"x":0.85,"y":0.0007},{"x":0.85,"y":0.0017},{"x":0.85,"y":0.0027},{"x":0.85,"y":0.0037},{"x":0.85,"y":0.0047},{"x":0.85,"y":0.0057},{"x":0.85,"y":0.0067},
{"x":0.86,"y":-0.0043},{"x":0.86,"y":-0.0033},{"x":0.86,"y":-0.0023},{"x":0.86,"y":-0.0013},{"x":0.86,"y":-0.0003},{"x":0.86,"y":0.0007},{"x":0.86,"y":0.0017},{"x":0.86,"y":0.0027},{"x":0.86,"y":0.0037},{"x":0.86,"y":0.0047},{"x":0.86,"y":0.0057},{"x":0.86,"y":0.0067},
{"x":0.87,"y":-0.0044},{"x":0.87,"y":-0.0034},{"x":0.87,"y":-0.0024},{"x":0.87,"y":-0.0014},{"x":0.87,"y":-0.0004},{"x":0.87,"y":0.0006},{"x":0.87,"y":0.0016},{"x":0.87,"y":0.0026},{"x":0.87,"y":0.0036},{"x":0.87,"y":0.0046},{"x":0.87,"y":0.0056},
{"x":0.88,"y":-0.0044},{"x":0.88,"y":-0.0034},{"x":0.88,"y":-0.0024},{"x":0.88,"y":-0.0014},{"x":0.88,"y":-0.0004},{"x":0.88,"y":0.0006},{"x":0.88,"y":0.0016},{"x":0.88,"y":0.0026},{"x":0.88,"y":0.0036},{"x":0.88,"y":0.0046},{"x":0.88,"y":0.0056},
{"x":0.89,"y":-0.0045},{"x":0.89,"y":-0.0035},{"x":0.89,"y":-0.0025},{"x":0.89,"y":-0.0015},{"x":0.89,"y":-0.0005},{"x":0.89,"y":0.0005},{"x":0.89,"y":0.0015},{"x":0.89,"y":0.0025},{"x":0.89,"y":0.0035},{"x":0.89,"y":0.0045},
{"x":0.9,"y":-0.0045},{"x":0.9,"y":-0.0035},{"x":0.9,"y":-0.0025},{"x":0.9,"y":-0.0015},{"x":0.9,"y":-0.0005},{"x":0.9,"y":0.0005},{"x":0.9,"y":0.0015},{"x":0.9,"y":0.0025},{"x":0.9,"y":0.0035},{"x":0.9,"y":0.0045},
{"x":0.91,"y":-0.0046},{"x":0.91,"y":-0.0036},{"x":0.91,"y":-0.0026},{"x":0.91,"y":-0.0016},{"x":0.91,"y":-0.0006},{"x":0.91,"y":0.0004},{"x":0.91,"y":0.0014},{"x":0.91,"y":0.0024},{"x":0.91,"y":0.0034},
{"x":0.92,"y":-0.0045},{"x":0.92,"y":-0.0035},{"x":0.92,"y":-0.0025},{"x":0.92,"y":-0.0015},{"x":0.92,"y":-0.0005},{"x":0.92,"y":0.0005},{"x":0.92,"y":0.0015},{"x":0.92,"y":0.0025},{"x":0.92,"y":0.0035},
{"x":0.93,"y":-0.0044},{"x":0.93,"y":-0.0034},{"x":0.93,"y":-0.0024},{"x":0.93,"y":-0.0014},{"x":0.93,"y":-0.0004},{"x":0.93,"y":0.0006},{"x":0.93,"y":0.0016},{"x":0.93,"y":0.0026},
{"x":0.94,"y":-0.0043},{"x":0.94,"y":-0.0033},{"x":0.94,"y":-0.0023},{"x":0.94,"y":-0.0013},{"x":0.94,"y":-0.0003},{"x":0.94,"y":0.0007},{"x":0.94,"y":0.0017},{"x":0.94,"y":0.0027},
{"x":0.95,"y":-0.0042},{"x":0.95,"y":-0.0032},{"x":0.95,"y":-0.0022},{"x":0.95,"y":-0.0012},{"x":0.95,"y":-0.0002},{"x":0.95,"y":0.0008},{"x":0.95,"y":0.0018},
{"x":0.96,"y":-0.004},{"x":0.96,"y":-0.003},{"x":0.96,"y":-0.002},{"x":0.96,"y":-0.001},{"x":0.96,"y":0},{"x":0.96,"y":0.001},{"x":0.96,"y":0.002},
{"x":0.97,"y":-0.0039},{"x":0.97,"y":-0.0029},{"x":0.97,"y":-0.0019},{"x":0.97,"y":-0.0009},{"x":0.97,"y":0.0001},{"x":0.97,"y":0.0011},
{"x":0.98,"y":-0.0038},{"x":0.98,"y":-0.0028},{"x":0.98,"y":-0.0018},{"x":0.98,"y":-0.0008},{"x":0.98,"y":0.0002},{"x":0.98,"y":0.0012},
{"x":0.99,"y":-0.0037},{"x":0.99,"y":-0.0027},{"x":0.99,"y":-0.0017},{"x":0.99,"y":-0.0007},{"x":0.99,"y":0.0003},{"x":0.99,"y":0.0013},
{"x":1,"y":-0.0036},{"x":1,"y":-0.0026},{"x":1,"y":-0.0016},{"x":1,"y":-0.0006},{"x":1,"y":0.0004},
{"x":1.01,"y":-0.0035},{"x":1.01,"y":-0.0025},{"x":1.01,"y":-0.0015},{"x":1.01,"y":-0.0005},{"x":1.01,"y":0.0005},
{"x":1.02,"y":-0.0034},{"x":1.02,"y":-0.0024},{"x":1.02,"y":-0.0014},{"x":1.02,"y":-0.0004},{"x":1.02,"y":0.0006},
{"x":1.03,"y":-0.0033},{"x":1.03,"y":-0.0023},{"x":1.03,"y":-0.0013},{"x":1.03,"y":-0.0003},
{"x":1.04,"y":-0.0032},{"x":1.04,"y":-0.0022},{"x":1.04,"y":-0.0012},{"x":1.04,"y":-0.0002},
{"x":1.05,"y":-0.003},{"x":1.05,"y":-0.002},{"x":1.05,"y":-0.001},{"x":1.05,"y":0},
{"x":1.06,"y":-0.0028},{"x":1.06,"y":-0.0018},{"x":1.06,"y":-0.0008},
{"x":1.07,"y":-0.0027},{"x":1.07,"y":-0.0017},{"x":1.07,"y":-0.0007},
{"x":1.08,"y":-0.0025},{"x":1.08,"y":-0.0015},{"x":1.08,"y":-0.0005},
{"x":1.09,"y":-0.0023},{"x":1.09,"y":-0.0013},{"x":1.09,"y":-0.0003},
{"x":1.1,"y":-0.0021},{"x":1.1,"y":-0.0011},{"x":1.1,"y":-0.0001},
{"x":1.11,"y":-0.0018},{"x":1.11,"y":-0.0008},
{"x":1.12,"y":-0.0015},{"x":1.12,"y":-0.0005},
{"x":1.13,"y":-0.0012},
{"x":0.762,"y":0.0145},{"x":0.762,"y":0.0165},{"x":0.762,"y":0.0185},{"x":0.762,"y":0.0205},{"x":0.762,"y":0.0225},{"x":0.762,"y":0.025},{"x":0.762,"y":0.0275},
{"x":0.77,"y":0.0135},{"x":0.77,"y":0.0155},{"x":0.77,"y":0.0175},{"x":0.77,"y":0.0195},{"x":0.77,"y":0.0215},{"x":0.77,"y":0.024},{"x":0.77,"y":0.0265},{"x":0.77,"y":0.029},
{"x":0.778,"y":0.0145},{"x":0.778,"y":0.0165},{"x":0.778,"y":0.0185},{"x":0.778,"y":0.0205},{"x":0.778,"y":0.023},{"x":0.778,"y":0.0255},{"x":0.778,"y":0.028},
{"x":0.786,"y":0.013},{"x":0.786,"y":0.015},{"x":0.786,"y":0.017},{"x":0.786,"y":0.019},{"x":0.786,"y":0.0215},{"x":0.786,"y":0.024},{"x":0.786,"y":0.027},
{"x":0.794,"y":0.0125},{"x":0.794,"y":0.0145},{"x":0.794,"y":0.0165},{"x":0.794,"y":0.019},{"x":0.794,"y":0.021},{"x":0.794,"y":0.0235},
{"x":0.802,"y":0.012},{"x":0.802,"y":0.014},{"x":0.802,"y":0.016},{"x":0.802,"y":0.0185},{"x":0.802,"y":0.021},
{"x":0.812,"y":0.0115},{"x":0.812,"y":0.0135},{"x":0.812,"y":0.016},{"x":0.812,"y":0.0185},
{"x":0.822,"y":0.0105},{"x":0.822,"y":0.0125},{"x":0.822,"y":0.015},{"x":0.822,"y":0.0175},{"x":0.822,"y":0.0215},
{"x":0.832,"y":0.01},{"x":0.832,"y":0.012},{"x":0.832,"y":0.0145},{"x":0.832,"y":0.017},{"x":0.832,"y":0.02},
{"x":0.842,"y":0.0095},{"x":0.842,"y":0.0115},{"x":0.842,"y":0.014},{"x":0.842,"y":0.0165},
{"x":0.852,"y":0.009},{"x":0.852,"y":0.011},{"x":0.852,"y":0.0135},
{"x":0.862,"y":0.0085},{"x":0.862,"y":0.0105},{"x":0.862,"y":0.013},
{"x":0.872,"y":0.008},{"x":0.872,"y":0.01},{"x":0.872,"y":0.012},
{"x":0.882,"y":0.0075},{"x":0.882,"y":0.0095},{"x":0.882,"y":0.0115},
{"x":0.892,"y":0.0065},{"x":0.892,"y":0.0085},{"x":0.892,"y":0.0105},
{"x":0.902,"y":0.006},{"x":0.902,"y":0.008},{"x":0.902,"y":0.01},
{"x":0.912,"y":0.0055},{"x":0.912,"y":0.0072},{"x":0.912,"y":0.009},
{"x":0.922,"y":0.0045},{"x":0.922,"y":0.0062},{"x":0.922,"y":0.008},
{"x":0.932,"y":0.0045},{"x":0.932,"y":0.006},{"x":0.942,"y":0.0038},{"x":0.942,"y":0.0055},{"x":0.942,"y":0.0072},{"x":0.952,"y":0.0035},{"x":0.952,"y":0.005},{"x":0.962,"y":0.003},{"x":0.962,"y":0.0045},{"x":0.972,"y":0.0028},{"x":0.972,"y":0.0042},{"x":0.985,"y":0.0022},{"x":0.985,"y":0.0035},{"x":0.995,"y":0.002},{"x":0.995,"y":0.003},{"x":1.005,"y":0.0015},{"x":1.005,"y":0.0028},{"x":1.015,"y":0.0012},{"x":1.015,"y":0.0024},{"x":1.03,"y":0.0015},{"x":1.045,"y":0.0012},{"x":1.06,"y":0.001},{"x":1.08,"y":0.0008},
{"x":0.6,"y":0.003},{"x":0.6,"y":0.008},{"x":0.6,"y":0.012},{"x":0.6,"y":0.0165},{"x":0.6,"y":0.021},
{"x":0.608,"y":0.005},{"x":0.608,"y":0.01},{"x":0.608,"y":0.014},{"x":0.608,"y":0.019},{"x":0.608,"y":0.025},{"x":0.608,"y":0.03},
{"x":0.616,"y":0.0025},{"x":0.616,"y":0.0065},{"x":0.616,"y":0.011},{"x":0.616,"y":0.0155},{"x":0.616,"y":0.023},
{"x":0.624,"y":0.004},{"x":0.624,"y":0.0085},{"x":0.624,"y":0.013},{"x":0.624,"y":0.0175},{"x":0.624,"y":0.0215},{"x":0.624,"y":0.028},
{"x":0.632,"y":0.0015},{"x":0.632,"y":0.006},{"x":0.632,"y":0.01},{"x":0.632,"y":0.0145},{"x":0.632,"y":0.0195},{"x":0.632,"y":0.025},
{"x":0.64,"y":0.0035},{"x":0.64,"y":0.0075},{"x":0.64,"y":0.012},{"x":0.64,"y":0.0165},{"x":0.64,"y":0.023},{"x":0.64,"y":0.03},
{"x":0.648,"y":0.001},{"x":0.648,"y":0.005},{"x":0.648,"y":0.0095},{"x":0.648,"y":0.014},{"x":0.648,"y":0.0185},{"x":0.648,"y":0.026},
{"x":0.656,"y":0.0025},{"x":0.656,"y":0.0065},{"x":0.656,"y":0.011},{"x":0.656,"y":0.0155},{"x":0.656,"y":0.021},{"x":0.656,"y":0.033},
{"x":0.664,"y":0.0005},{"x":0.664,"y":0.004},{"x":0.664,"y":0.008},{"x":0.664,"y":0.0125},{"x":0.664,"y":0.0175},{"x":0.664,"y":0.024},{"x":0.664,"y":0.029},
{"x":0.672,"y":0.002},{"x":0.672,"y":0.0055},{"x":0.672,"y":0.0095},{"x":0.672,"y":0.014},{"x":0.672,"y":0.0195},{"x":0.672,"y":0.0265},
{"x":0.68,"y":0},{"x":0.68,"y":0.0035},{"x":0.68,"y":0.007},{"x":0.68,"y":0.011},{"x":0.68,"y":0.016},{"x":0.68,"y":0.022},{"x":0.68,"y":0.031},
{"x":0.688,"y":0.0015},{"x":0.688,"y":0.005},{"x":0.688,"y":0.0085},{"x":0.688,"y":0.0125},{"x":0.688,"y":0.018},{"x":0.688,"y":0.0245},
{"x":0.696,"y":-0.0005},{"x":0.696,"y":0.003},{"x":0.696,"y":0.0065},{"x":0.696,"y":0.01},{"x":0.696,"y":0.0145},{"x":0.696,"y":0.02},{"x":0.696,"y":0.0275},
{"x":0.704,"y":0.0095},{"x":0.704,"y":0.012},{"x":0.704,"y":0.0165},{"x":0.704,"y":0.0225},{"x":0.704,"y":0.03},
{"x":0.712,"y":0.0105},{"x":0.712,"y":0.0135},{"x":0.712,"y":0.0185},{"x":0.712,"y":0.025},
{"x":0.72,"y":0.0115},{"x":0.72,"y":0.015},{"x":0.72,"y":0.0205},{"x":0.72,"y":0.023},{"x":0.72,"y":0.028},
{"x":0.728,"y":0.0125},{"x":0.728,"y":0.0165},{"x":0.728,"y":0.0215},{"x":0.728,"y":0.026},
{"x":0.736,"y":0.0135},{"x":0.736,"y":0.018},{"x":0.736,"y":0.02},{"x":0.736,"y":0.024},{"x":0.736,"y":0.029},
{"x":0.744,"y":0.014},{"x":0.744,"y":0.016},{"x":0.744,"y":0.0195},{"x":0.744,"y":0.0225},{"x":0.744,"y":0.0265},
{"x":0.752,"y":0.0145},{"x":0.752,"y":0.0175},{"x":0.752,"y":0.021},{"x":0.752,"y":0.0245},{"x":0.752,"y":0.0295},
{"x":0.62,"y":-0.0005},{"x":0.635,"y":-0.0012},{"x":0.65,"y":-0.0008},{"x":0.665,"y":-0.0015},{"x":0.68,"y":-0.0018},{"x":0.69,"y":-0.0022},{"x":0.70,"y":-0.0015},{"x":0.71,"y":-0.0025},{"x":0.645,"y":0.0008},{"x":0.675,"y":0.0008},
{"x":0.7,"y":0.033},{"x":0.715,"y":0.031},{"x":0.725,"y":0.0345},{"x":0.745,"y":0.032},{"x":0.755,"y":0.036},{"x":0.785,"y":0.0315},{"x":0.79,"y":0.034},{"x":0.8,"y":0.0305},{"x":0.81,"y":0.0285},{"x":0.82,"y":0.0265},{"x":0.835,"y":0.025},{"x":0.845,"y":0.0225},{"x":0.855,"y":0.021},{"x":0.83,"y":0.028},{"x":0.69,"y":0.037},{"x":0.66,"y":0.0395},{"x":0.67,"y":0.0355},{"x":0.65,"y":0.0345},{"x":0.63,"y":0.0325},{"x":0.62,"y":0.0355},{"x":0.605,"y":0.0375},{"x":0.61,"y":0.0335},{"x":0.595,"y":0.0305},{"x":0.585,"y":0.0255},{"x":0.59,"y":0.0225},{"x":0.595,"y":0.018},{"x":0.585,"y":0.015},{"x":0.59,"y":0.012},{"x":0.595,"y":0.008},{"x":0.585,"y":0.005},{"x":0.575,"y":0.009},{"x":0.57,"y":0.004},
{"x":0.88,"y":0.0135},{"x":0.9,"y":0.012},{"x":0.915,"y":0.011},{"x":0.935,"y":0.009},{"x":0.95,"y":0.0085},{"x":0.96,"y":0.0075},{"x":0.97,"y":0.0065},{"x":0.99,"y":0.0055},{"x":1,"y":0.0045},{"x":1.02,"y":0.0035},{"x":1.04,"y":0.003},{"x":1.05,"y":0.0025},{"x":1.07,"y":0.002},{"x":1.09,"y":0.0015},{"x":1.1,"y":0.0008},{"x":1.12,"y":0.0002},{"x":1.135,"y":-0.0005},{"x":1.14,"y":-0.0018},{"x":1.11,"y":-0.0028},{"x":1.06,"y":-0.0035},{"x":1.02,"y":-0.004},{"x":0.98,"y":-0.0045},{"x":0.95,"y":-0.0048},{"x":0.92,"y":-0.005},{"x":0.89,"y":-0.0048},{"x":0.86,"y":-0.0047},{"x":0.83,"y":-0.0045},{"x":0.8,"y":-0.0042},{"x":0.77,"y":-0.0038},{"x":0.74,"y":-0.0032},
{"x":0.604,"y":0.0055},{"x":0.612,"y":0.0125},{"x":0.619,"y":0.0045},{"x":0.627,"y":0.0105},{"x":0.635,"y":0.0035},{"x":0.643,"y":0.0095},{"x":0.651,"y":0.0155},{"x":0.659,"y":0.0045},{"x":0.667,"y":0.0105},{"x":0.675,"y":0.0165},{"x":0.683,"y":0.0055},{"x":0.691,"y":0.0115},{"x":0.699,"y":0.0175},{"x":0.707,"y":0.0135},{"x":0.715,"y":0.0115},{"x":0.723,"y":0.0135},{"x":0.731,"y":0.0155},{"x":0.739,"y":0.0125},{"x":0.747,"y":0.0128},{"x":0.755,"y":0.0125},
{"x":0.606,"y":0.0185},{"x":0.614,"y":0.0205},{"x":0.622,"y":0.0245},{"x":0.63,"y":0.0225},{"x":0.638,"y":0.0205},{"x":0.646,"y":0.0225},{"x":0.654,"y":0.0245},{"x":0.662,"y":0.0205},{"x":0.67,"y":0.0225},{"x":0.678,"y":0.0255},{"x":0.686,"y":0.0215},{"x":0.694,"y":0.0235},{"x":0.702,"y":0.0195},{"x":0.71,"y":0.0215},{"x":0.718,"y":0.0175},{"x":0.726,"y":0.0195},{"x":0.734,"y":0.0225},{"x":0.742,"y":0.0245},{"x":0.75,"y":0.0195},{"x":0.758,"y":0.0185},
{"x":0.611,"y":0.0075},{"x":0.619,"y":0.0095},{"x":0.627,"y":0.0065},{"x":0.637,"y":0.0085},{"x":0.645,"y":0.0055},{"x":0.653,"y":0.0085},{"x":0.661,"y":0.0065},{"x":0.669,"y":0.0075},{"x":0.677,"y":0.0095},{"x":0.685,"y":0.0075},{"x":0.693,"y":0.0085},{"x":0.66,"y":0.0135},{"x":0.668,"y":0.0155},{"x":0.676,"y":0.0135},{"x":0.684,"y":0.0145},{"x":0.692,"y":0.0165},{"x":0.7,"y":0.0145},{"x":0.708,"y":0.0155},{"x":0.716,"y":0.0165},{"x":0.724,"y":0.0155},{"x":0.732,"y":0.0175},{"x":0.74,"y":0.0165},
{"x":0.765,"y":0.0155},{"x":0.773,"y":0.0145},{"x":0.781,"y":0.0195},{"x":0.789,"y":0.0205},{"x":0.797,"y":0.0175},{"x":0.805,"y":0.0195},{"x":0.815,"y":0.0145},{"x":0.825,"y":0.0165},{"x":0.835,"y":0.0135},{"x":0.845,"y":0.0125},{"x":0.855,"y":0.0115},{"x":0.865,"y":0.0095},{"x":0.875,"y":0.0105},{"x":0.885,"y":0.0085},{"x":0.895,"y":0.0095},{"x":0.905,"y":0.007},{"x":0.915,"y":0.0065},{"x":0.925,"y":0.007},{"x":0.935,"y":0.0052},{"x":0.945,"y":0.0045},{"x":0.955,"y":0.0042},{"x":0.965,"y":0.0038},{"x":0.975,"y":0.0035},
{"x":0.767,"y":0.0265},{"x":0.775,"y":0.0255},{"x":0.783,"y":0.0245},{"x":0.791,"y":0.0255},{"x":0.799,"y":0.0225},{"x":0.807,"y":0.0235},{"x":0.817,"y":0.0205},{"x":0.827,"y":0.019},{"x":0.837,"y":0.0185},{"x":0.847,"y":0.0175},{"x":0.857,"y":0.016},{"x":0.867,"y":0.0145},{"x":0.877,"y":0.0135},{"x":0.887,"y":0.0125},
{"x":0.605,"y":0.0265},{"x":0.615,"y":0.0285},{"x":0.625,"y":0.0305},{"x":0.635,"y":0.0275},{"x":0.645,"y":0.0295},{"x":0.655,"y":0.0275},{"x":0.665,"y":0.0315},{"x":0.675,"y":0.0295},{"x":0.685,"y":0.0275},{"x":0.695,"y":0.0305},{"x":0.705,"y":0.0265},{"x":0.715,"y":0.0285},{"x":0.725,"y":0.0305},{"x":0.735,"y":0.0265},{"x":0.745,"y":0.0285},{"x":0.755,"y":0.0265},
{"x":0.56,"y":0.0135},{"x":0.565,"y":0.0175},{"x":0.555,"y":0.0105},{"x":0.567,"y":0.0055},{"x":0.553,"y":0.0045},{"x":0.545,"y":0.0065},{"x":0.548,"y":0.0155},{"x":0.538,"y":0.0125},{"x":0.57,"y":0.0245},{"x":0.562,"y":0.0285}
],
"fb":[{"x":0.375,"y":0.0459},{"x":0.4,"y":0.0422},{"x":0.45,"y":0.0353},{"x":0.5,"y":0.0289},{"x":0.55,"y":0.0232},{"x":0.6,"y":0.0181},{"x":0.65,"y":0.0136},{"x":0.7,"y":0.0096},{"x":0.75,"y":0.0063},{"x":0.8,"y":0.0036},{"x":0.85,"y":0.0015},{"x":0.9,"y":0},{"x":0.95,"y":-0.0009},{"x":1,"y":-0.0012},{"x":1.05,"y":-0.0009},{"x":1.1,"y":0},{"x":1.14,"y":0.0012}]
},
"hconcat":[
{
"width":965,"height":714,
"title":{"text":"(a)","orient":"bottom","anchor":"middle","frame":"bounds","offset":22,"dx":13},
"layer":[
{"data":{"name":"a"},"mark":{"type":"circle","size":70,"opacity":1},
"encoding":{
"x":{"field":"x","type":"quantitative","scale":{"domain":[-0.01,0.05],"nice":false,"zero":false},"axis":{"values":[-0.01,0,0.01,0.02,0.03,0.04,0.05],"format":".2~f","title":"MODIS NNMCI","titlePadding":40,"titleFontSize":52.5,"titleX":465}},
"y":{"field":"y","type":"quantitative","scale":{"domain":[-0.01,0.07],"nice":false,"zero":false},"axis":{"values":[0,0.02,0.04,0.06],"format":".2~f","title":"MERIS/OLCI MCI","titleY":344}},
"color":{"datum":"Samples","type":"nominal","scale":{"domain":["Samples","LineofBestFit"],"range":["#0000ff","#ff0000"]},
"legend":{"title":" ","titleOrient":"right","titlePadding":44,"titleFontSize":4,"orient":"none","legendX":11,"legendY":16,"padding":9,"clipHeight":56,"rowPadding":0,"symbolSize":25921,"symbolStrokeWidth":0,"symbolOffset":17.5,"labelOffset":12.5,"labelFontSize":51,"labelLimit":1000,
"symbolType":{"expr":"datum.value == 'Samples' ? 'M-0.046,0A0.046,0.046,0,1,0,0.046,0A0.046,0.046,0,1,0,-0.046,0Z' : 'M-1,-0.062H-0.503V0.062H-1Z M-0.13,-0.062H0.367V0.062H-0.13Z M0.739,-0.062H1V0.062H0.739Z'"},
"symbolFillColor":{"expr":"datum.value == 'Samples' ? '#0000ff' : '#ff0000'"}}}
}},
{"data":{"name":"fa"},"mark":{"type":"line","strokeWidth":10,"strokeDash":[40,30],"strokeCap":"butt"},
"encoding":{
"x":{"field":"x","type":"quantitative","axis":{"orient":"top","labels":false,"grid":false,"title":null,"values":[-0.01,0,0.01,0.02,0.03,0.04,0.05]}},
"y":{"field":"y","type":"quantitative","axis":{"orient":"right","labels":false,"grid":false,"title":null,"values":[0,0.02,0.04,0.06]}},
"color":{"datum":"LineofBestFit","type":"nominal"}
}}
],
"resolve":{"axis":{"x":"independent","y":"independent"}}
},
{
"width":949,"height":701,
"title":{"text":"(b)","orient":"bottom","anchor":"middle","frame":"bounds","offset":37,"dx":3},
"layer":[
{"data":{"name":"b"},"mark":{"type":"circle","size":70,"opacity":1},
"encoding":{
"x":{"field":"x","type":"quantitative","scale":{"domain":[0.2,1.2],"nice":false,"zero":false},"axis":{"values":[0.2,0.4,0.6,0.8,1,1.2],"format":".1~f","title":"MODIS 488/555","titlePadding":31,"titleFontSize":52.5,"titleX":463}},
"y":{"field":"y","type":"quantitative","scale":{"domain":[-0.01,0.07],"nice":false,"zero":false},"axis":{"values":[0,0.02,0.04,0.06],"format":".2~f","title":"MERIS/OLCI MCI","titleY":336}},
"color":{"datum":"Samples","type":"nominal","scale":{"domain":["Samples","LineofBestFit"],"range":["#0000ff","#ff0000"]},
"legend":{"title":null,"orient":"none","legendX":420,"legendY":24,"padding":6,"clipHeight":56,"rowPadding":0,"symbolSize":21316,"symbolStrokeWidth":0,"symbolOffset":19,"labelOffset":-10,"labelFontSize":44,"labelLimit":1000,
"symbolType":{"expr":"datum.value == 'Samples' ? 'M-0.05,0A0.05,0.05,0,1,0,0.05,0A0.05,0.05,0,1,0,-0.05,0Z' : 'M-1,-0.0685H-0.452V0.0685H-1Z M0.014,-0.0685H0.562V0.0685H0.014Z'"},
"symbolFillColor":{"expr":"datum.value == 'Samples' ? '#0000ff' : '#ff0000'"}}}
}},
{"data":{"name":"fb"},"mark":{"type":"line","strokeWidth":10,"strokeDash":[40,30],"strokeCap":"butt","interpolate":"monotone"},
"encoding":{
"x":{"field":"x","type":"quantitative","axis":{"orient":"top","labels":false,"grid":false,"title":null,"values":[0.2,0.4,0.6,0.8,1,1.2]}},
"y":{"field":"y","type":"quantitative","axis":{"orient":"right","labels":false,"grid":false,"title":null,"values":[0,0.02,0.04,0.06]}},
"color":{"datum":"LineofBestFit","type":"nominal"}
}}
],
"resolve":{"axis":{"x":"independent","y":"independent"}}
}
],
"resolve":{"scale":{"color":"independent"},"legend":{"color":"independent"}},
"config":{
"view":{"stroke":"#262626","strokeWidth":3},
"axis":{"grid":true,"gridColor":"#dedede","gridWidth":3,"domain":false,"ticks":true,"tickColor":"#262626","tickWidth":3,"tickSize":-12,"labelFont":"Liberation Serif","labelFontSize":55,"labelColor":"#262626","labelPadding":36,"labelFlush":false,"titleFont":"Liberation Sans","titleFontWeight":"bold","titleFontSize":55,"titleColor":"#262626"},
"axisY":{"titlePadding":18,"titleFontSize":60},
"axisX":{"titlePadding":31},
"legend":{"labelFont":"Liberation Sans","labelFontWeight":"bold","labelColor":"#000000","strokeColor":"#262626","strokeWidth":3,"fillColor":"#ffffff"},
"title":{"font":"Liberation Serif","fontSize":46,"fontWeight":"normal","color":"#000000"}
}
}
